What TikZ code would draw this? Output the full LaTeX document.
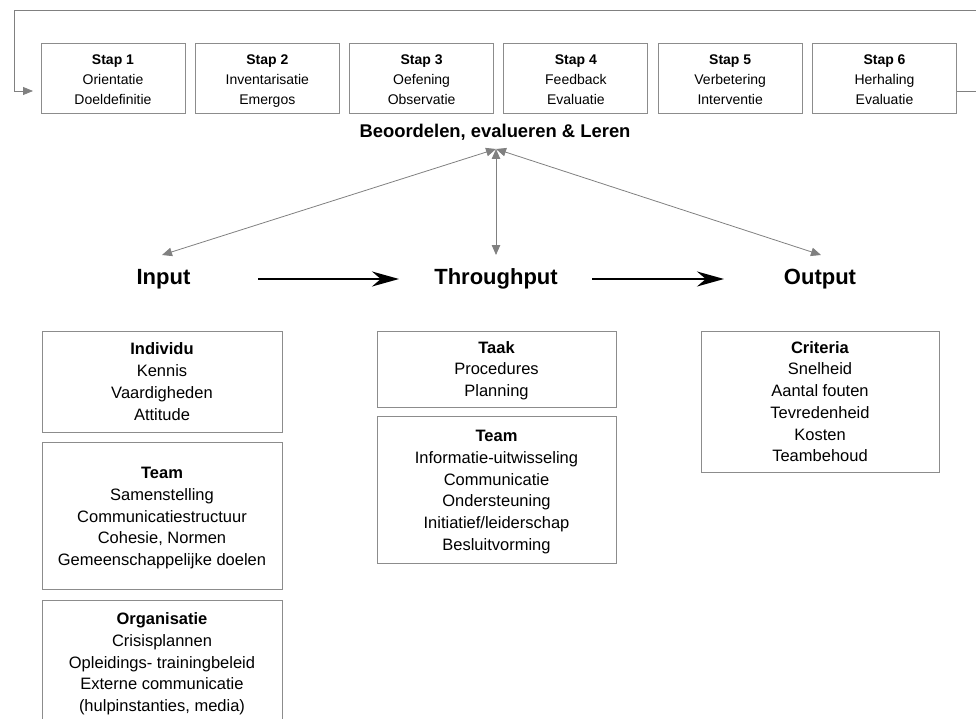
\documentclass[tikz,border=0pt]{standalone}
\usepackage{fontspec}
\setmainfont{Liberation Sans}
\usepackage{xcolor}
\usepackage{tikz}
\usetikzlibrary{positioning,arrows.meta}
\definecolor{kadergrijs}{RGB}{140,140,140}
\definecolor{pijlgrijs}{RGB}{128,128,128}

\begin{document}
\begin{tikzpicture}[x=1pt,y=-1pt,
		stapbox/.style={draw=kadergrijs,line width=0.9pt,minimum width=144pt,minimum height=70pt,inner sep=0pt,align=center,text height=54pt,text depth=0pt,font=\fontsize{14}{20}\selectfont},
		blokbox/.style={draw=kadergrijs,line width=0.9pt,minimum width=240pt,inner sep=0pt,align=center,text depth=0pt,font=\fontsize{16.5}{21.7}\selectfont},
		fase/.style={font=\bfseries\fontsize{22}{26}\selectfont},
		lusline/.style={draw=pijlgrijs,line width=0.8pt},
		grijspijl/.style={draw=pijlgrijs,line width=0.8pt,{Triangle[length=10pt,width=8.5pt]}-{Triangle[length=10pt,width=8.5pt]}},
		zwartpijl/.style={line width=2pt,-{Stealth[length=27pt,width=15pt]}}]
		\useasboundingbox (0,0) rectangle (976,719);
		\clip (0,0) rectangle (976,719);
		\node[stapbox] (s1) at (113,78) {\textbf{Stap 1}\\Orientatie\\Doeldefinitie};
		\node[stapbox,right=9.4pt of s1] (s2) {\textbf{Stap 2}\\Inventarisatie\\Emergos};
		\node[stapbox,right=9.4pt of s2] (s3) {\textbf{Stap 3}\\Oefening\\Observatie};
		\node[stapbox,right=9.4pt of s3] (s4) {\textbf{Stap 4}\\Feedback\\Evaluatie};
		\node[stapbox,right=9.4pt of s4] (s5) {\textbf{Stap 5}\\Verbetering\\Interventie};
		\node[stapbox,right=9.4pt of s5] (s6) {\textbf{Stap 6}\\Herhaling\\Evaluatie};
		\coordinate (lusin) at (957,91);
		\coordinate (lusuit) at (976,91);
		\coordinate (lusrechts) at (976,10);
		\coordinate (luslinks) at (14,10);
		\coordinate (lushoek) at (14,91);
		\coordinate (luseind) at (33,91);
		\draw[lusline] (lusin) -- (lusuit);
		\draw[lusline,-{Triangle[length=10pt,width=8pt]}] (lusrechts) -- (luslinks) -- (lushoek) -- (luseind);
		\node[font=\bfseries\fontsize{18.4}{22}\selectfont] (leren) at (495,132) {Beoordelen, evalueren \& Leren};
		\coordinate (hub) at (496,149);
		\node[fase] (input) at (163.5,279) {Input};
		\node[fase] (throughput) at (496,279) {Throughput};
		\node[fase] (output) at (820,279) {Output};
		\coordinate (inpunt) at (162,255);
		\coordinate (thpunt) at (496,255);
		\coordinate (outpunt) at (821,255);
		\draw[grijspijl] (hub) -- (inpunt);
		\draw[grijspijl] (hub) -- (thpunt);
		\draw[grijspijl] (hub) -- (outpunt);
		\coordinate (pijl1a) at (258,279);
		\coordinate (pijl1b) at (399,279);
		\coordinate (pijl2a) at (592,279);
		\coordinate (pijl2b) at (724,279);
		\draw[zwartpijl] (pijl1a) -- (pijl1b);
		\draw[zwartpijl] (pijl2a) -- (pijl2b);
		\node[blokbox,minimum height=101pt] (individu) at (162,381.5) {\textbf{Individu}\\Kennis\\Vaardigheden\\Attitude};
		\node[blokbox,minimum height=147pt,below=10pt of individu] (teamin) {\textbf{Team}\\Samenstelling\\Communicatiestructuur\\Cohesie, Normen\\Gemeenschappelijke doelen};
		\node[blokbox,minimum height=123pt,below=10pt of teamin] (organisatie) {\textbf{Organisatie}\\Crisisplannen\\Opleidings- trainingbeleid\\Externe communicatie\\(hulpinstanties, media)};
		\node[blokbox,minimum width=239pt,minimum height=76pt] (taak) at (496.5,369) {\textbf{Taak}\\Procedures\\Planning};
		\node[blokbox,minimum width=239pt,minimum height=147pt,below=9pt of taak] (teamdoor) {\textbf{Team}\\Informatie-uitwisseling\\Communicatie\\Ondersteuning\\Initiatief/leiderschap\\Besluitvorming};
		\node[blokbox,minimum width=238pt,minimum height=141pt] (criteria) at (820,401.5) {\textbf{Criteria}\\Snelheid\\Aantal fouten\\Tevredenheid\\Kosten\\Teambehoud};
	\end{tikzpicture}
\end{document}
